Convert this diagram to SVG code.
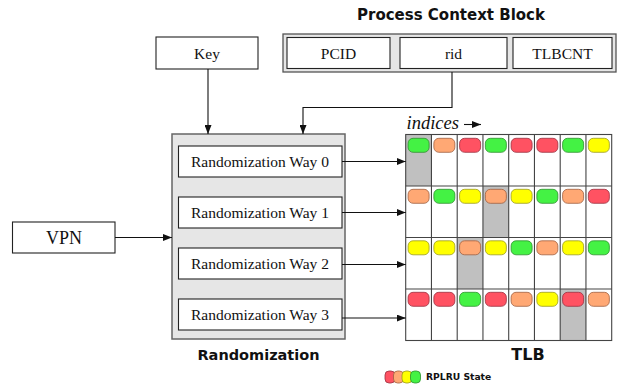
<svg xmlns="http://www.w3.org/2000/svg" width="617" height="385" viewBox="0 0 617 385">
<style>
.box{fill:#fff;stroke:#222;stroke-width:1.1}
.panel{fill:#e6e6e6;stroke:#666;stroke-width:1.5}
.lbl{font-family:"Liberation Serif","Times New Roman",serif;font-size:15.5px;fill:#111;text-anchor:middle}
.title{font-family:"DejaVu Sans",sans-serif;font-weight:bold;font-size:14.5px;fill:#111;text-anchor:middle}
.conn{fill:none;stroke:#111;stroke-width:1.1}
.grid{fill:none;stroke:#444;stroke-width:1.1}
.g{fill:#44f244;stroke:#2d8f2d;stroke-width:0.8}
.o{fill:#ffa874;stroke:#a06040;stroke-width:0.8}
.r{fill:#ff5262;stroke:#9a3040;stroke-width:0.8}
.y{fill:#ffff00;stroke:#9a9a20;stroke-width:0.8}
.sel{fill:#c0c0c0}
</style>
<defs>
<marker id="ah" markerWidth="9" markerHeight="7" refX="9" refY="3.5" orient="auto" markerUnits="userSpaceOnUse">
<path d="M0,0 L9,3.5 L0,7 z" fill="#111"/>
</marker>
<symbol id="pill" overflow="visible"><rect x="0" y="0" width="21" height="14" rx="5"/></symbol>
</defs>

<text class="title" x="451" y="20" style="font-size:15px">Process Context Block</text>
<g id="pcb">
<rect x="283" y="34" width="333" height="38" fill="#e6e6e6" stroke="#555" stroke-width="1.3"/>
</g>
<g id="pcid"><rect class="box" x="287" y="37.5" width="103" height="31"/><text class="lbl" x="338.5" y="58.5">PCID</text></g>
<g id="rid"><rect class="box" x="400" y="37.5" width="107" height="31"/><text class="lbl" x="453.5" y="58.5">rid</text></g>
<g id="tlbcnt"><rect class="box" x="513" y="37.5" width="99" height="31"/><text class="lbl" x="562.5" y="58.5">TLBCNT</text></g>

<g id="key"><rect class="box" x="156" y="37" width="102" height="32"/><text class="lbl" x="207" y="58.5">Key</text></g>

<g id="vpn"><rect class="box" x="12.5" y="222" width="102.5" height="31"/><text class="lbl" x="64" y="244" style="font-size:18px">VPN</text></g>

<g id="randomization">
<rect class="panel" x="172" y="134" width="173" height="205"/>
<rect class="box" x="178.5" y="146" width="163.5" height="31"/><text class="lbl" x="260" y="167">Randomization Way 0</text>
<rect class="box" x="178.5" y="197" width="163.5" height="31"/><text class="lbl" x="260" y="218">Randomization Way 1</text>
<rect class="box" x="178.5" y="248" width="163.5" height="31"/><text class="lbl" x="260" y="269">Randomization Way 2</text>
<rect class="box" x="178.5" y="299" width="163.5" height="31"/><text class="lbl" x="260" y="320">Randomization Way 3</text>
<text class="title" x="258.5" y="360">Randomization</text>
</g>

<g id="tlb">
<rect x="405.7" y="134.5" width="206" height="206" fill="#fff"/>
<rect class="sel" x="405.7" y="134.5" width="25.75" height="51.5"/>
<rect class="sel" x="482.95" y="186" width="25.75" height="51.5"/>
<rect class="sel" x="457.2" y="237.5" width="25.75" height="51.5"/>
<rect class="sel" x="560.2" y="289" width="25.75" height="51.5"/>
<g class="grid">
<rect x="405.7" y="134.5" width="206" height="206"/>
<path d="M405.7,186H611.7M405.7,237.5H611.7M405.7,289H611.7"/>
<path d="M431.45,134.5V340.5M457.2,134.5V340.5M482.95,134.5V340.5M508.7,134.5V340.5M534.45,134.5V340.5M560.2,134.5V340.5M585.95,134.5V340.5"/>
</g>
<g id="row0">
<use href="#pill" class="g" x="408.1" y="138.3"/>
<use href="#pill" class="o" x="433.85" y="138.3"/>
<use href="#pill" class="r" x="459.6" y="138.3"/>
<use href="#pill" class="g" x="485.35" y="138.3"/>
<use href="#pill" class="r" x="511.1" y="138.3"/>
<use href="#pill" class="r" x="536.85" y="138.3"/>
<use href="#pill" class="g" x="562.6" y="138.3"/>
<use href="#pill" class="y" x="588.35" y="138.3"/>
</g>
<g id="row1">
<use href="#pill" class="o" x="408.1" y="189.3"/>
<use href="#pill" class="g" x="433.85" y="189.3"/>
<use href="#pill" class="y" x="459.6" y="189.3"/>
<use href="#pill" class="o" x="485.35" y="189.3"/>
<use href="#pill" class="y" x="511.1" y="189.3"/>
<use href="#pill" class="g" x="536.85" y="189.3"/>
<use href="#pill" class="o" x="562.6" y="189.3"/>
<use href="#pill" class="r" x="588.35" y="189.3"/>
</g>
<g id="row2">
<use href="#pill" class="y" x="408.1" y="240.8"/>
<use href="#pill" class="y" x="433.85" y="240.8"/>
<use href="#pill" class="o" x="459.6" y="240.8"/>
<use href="#pill" class="y" x="485.35" y="240.8"/>
<use href="#pill" class="g" x="511.1" y="240.8"/>
<use href="#pill" class="o" x="536.85" y="240.8"/>
<use href="#pill" class="y" x="562.6" y="240.8"/>
<use href="#pill" class="g" x="588.35" y="240.8"/>
</g>
<g id="row3">
<use href="#pill" class="r" x="408.1" y="292.3"/>
<use href="#pill" class="r" x="433.85" y="292.3"/>
<use href="#pill" class="g" x="459.6" y="292.3"/>
<use href="#pill" class="r" x="485.35" y="292.3"/>
<use href="#pill" class="o" x="511.1" y="292.3"/>
<use href="#pill" class="y" x="536.85" y="292.3"/>
<use href="#pill" class="r" x="562.6" y="292.3"/>
<use href="#pill" class="o" x="588.35" y="292.3"/>
</g>
<text x="406.5" y="129" style="font-family:'Liberation Serif','Times New Roman',serif;font-style:italic;font-size:18.5px;fill:#111">indices</text>
<text class="title" x="528" y="360" style="font-size:16px">TLB</text>
</g>

<g id="legend">
<rect class="r" x="385" y="371" width="10" height="12" rx="4"/>
<rect class="o" x="393.5" y="371" width="10" height="12" rx="4"/>
<rect class="y" x="402" y="371" width="10" height="12" rx="4"/>
<rect class="g" x="410.5" y="371" width="10" height="12" rx="4"/>
<text x="426" y="379.5" style="font-family:'DejaVu Sans',sans-serif;font-weight:bold;font-size:9.2px;fill:#111">RPLRU State</text>
</g>

<g id="connectors">
<path class="conn" d="M208,69V134" marker-end="url(#ah)"/>
<path class="conn" d="M452,72V107.5H303V134" marker-end="url(#ah)"/>
<path class="conn" d="M115,237.5H172" marker-end="url(#ah)"/>
<path class="conn" d="M342,161.5H405.7" marker-end="url(#ah)"/>
<path class="conn" d="M342,212.5H405.7" marker-end="url(#ah)"/>
<path class="conn" d="M342,264.5H405.7" marker-end="url(#ah)"/>
<path class="conn" d="M342,318H405.7" marker-end="url(#ah)"/>
<path class="conn" d="M464,124.5H481" marker-end="url(#ah)"/>
</g>
</svg>
